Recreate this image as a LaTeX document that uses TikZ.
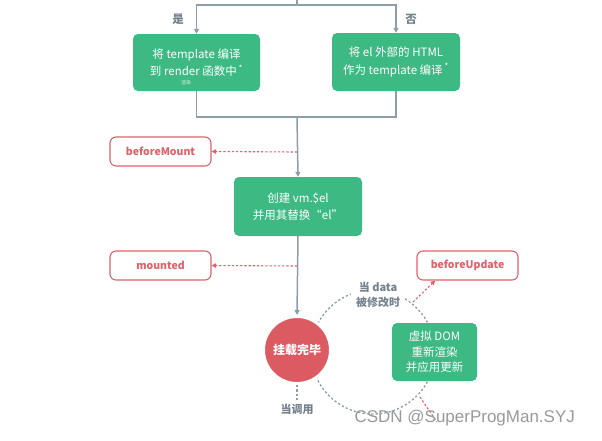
\documentclass[tikz,border=0pt]{standalone}
\usepackage{fontspec}
\setmainfont{Noto Sans CJK SC}
\newfontfamily\markfont{Liberation Sans}
\usetikzlibrary{arrows.meta}
\definecolor{vuegreen}{HTML}{3DB983}
\definecolor{hookred}{HTML}{E0616A}
\definecolor{mountred}{HTML}{DC5A61}
\definecolor{flowgray}{HTML}{8D9DAA}
\definecolor{notegray}{HTML}{74828F}

\begin{document}
\begin{tikzpicture}[x=1pt, y=-1pt,
    stepbox/.style={fill=vuegreen, rounded corners=5pt, text=white, align=center,
      font=\fontsize{11.5}{17.5}\selectfont, inner sep=0pt},
    hookbox/.style={draw=hookred, line width=1.1pt, fill=white, rounded corners=6pt,
      text=hookred, font=\fontsize{10.5}{12}\selectfont\bfseries,
      minimum width=101pt, minimum height=29pt},
    flow/.style={draw=flowgray, line width=1.5pt, -{Triangle[length=5pt,width=5pt]}},
    flowline/.style={draw=flowgray, line width=1.5pt},
    hook/.style={draw=hookred, line width=1.1pt, dash pattern=on 2.2pt off 2pt,
      -{Triangle[length=4.5pt,width=4.5pt]}},
    loopline/.style={draw=flowgray, line width=1.3pt, dash pattern=on 2.2pt off 2.2pt},
    note/.style={text=notegray, font=\fontsize{11}{15}\selectfont\bfseries, align=center}]
  \useasboundingbox (0,0) rectangle (602,440);

  % dashed update loop, drawn first so the nodes cover it
  \coordinate (loop) at (373,352);
  \draw[loopline] (loop) circle (62pt);

  % compile step
  \coordinate (top) at (297,0);
  \coordinate (fork) at (297,5);
  \node[stepbox, minimum width=127pt, minimum height=57pt] (compile) at (196.5,62.5)
    {将 template 编译\\到 render 函数中\,\textsuperscript{*}};
  \node[stepbox, minimum width=128pt, minimum height=58pt] (outer) at (396,62)
    {将 el 外部的 HTML\\作为 template 编译\,\textsuperscript{*}};
  \node[text=white!80!vuegreen, font=\fontsize{5}{5}\selectfont] (hint) at (186,83) {渲染};
  \node[note, font=\fontsize{11.5}{12}\selectfont\bfseries] (yes) at (178,19) {是};
  \node[note, font=\fontsize{11.5}{12}\selectfont\bfseries] (no) at (411,19) {否};
  \draw[flow] (top) -- (fork) -| (compile.north);
  \draw[flow] (fork) -| (outer.north);

  % mount
  \coordinate (join) at (297,117);
  \node[stepbox, minimum width=128pt, minimum height=59pt] (create) at (298,206.5)
    {创建 vm.\$el\\并用其替换“el”};
  \draw[flowline] (compile.south) |- (join) -| (outer.south);
  \draw[flow] (join) -- (create.north);

  \node[hookbox] (beforeMount) at (160.5,151.5) {beforeMount};
  \coordinate (bm) at (297,152);
  \draw[hook] (bm) -- (beforeMount.east);

  \node[hookbox] (mounted) at (160.5,265.5) {mounted};
  \coordinate (md) at (297,266);
  \draw[hook] (md) -- (mounted.east);

  \node[circle, fill=mountred, draw=white, line width=3pt, minimum size=67pt, inner sep=0pt,
    text=white, font=\fontsize{12}{12}\selectfont\bfseries] (done) at (297,350) {挂载完毕};
  \draw[flow] (create.south) -- (done.north);

  % update
  \node[note, fill=white, inner sep=5pt] (change) at (378,295) {当 data\\被修改时};
  \node[stepbox, minimum width=85pt, minimum height=58pt,
    font=\fontsize{11.5}{15.5}\selectfont] (patch) at (434.5,352)
    {虚拟 DOM\\重新渲染\\并应用更新};
  \node[hookbox] (beforeUpdate) at (467.5,265.5) {beforeUpdate};
  \coordinate (upd) at (413,302);
  \draw[hook] (upd) -- (beforeUpdate.205);
  \coordinate (upd2) at (420,397);
  \coordinate (updated) at (437,422);
  \draw[hook, -] (upd2) -- (updated);

  \node[note] (call) at (297,409) {当调用};
  \draw[loopline] (done.south) -- (call.north);

  \node[font=\markfont\fontsize{17}{17}\selectfont, text=black!40, anchor=west] (mark)
    at (351,418) {CSDN @SuperProgMan.SYJ};
\end{tikzpicture}
\end{document}
